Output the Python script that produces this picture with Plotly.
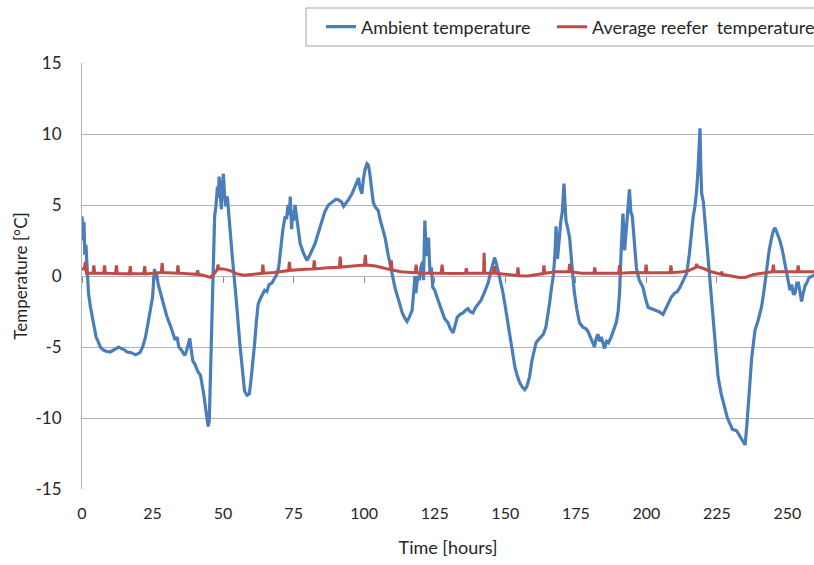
import plotly.graph_objects as go

# Ambient temperature (time in hours, value in °C)
amb_t = [0, 0.4, 0.7, 1.0, 1.4, 1.8, 2.3, 3.0, 3.6, 4.2, 5.0, 5.7, 6.5, 7.5, 8.5, 10, 11.5, 13, 13.8, 15, 16, 17.5, 19, 20.5, 21.5, 22.5, 23.5, 24.5, 25, 25.4, 25.7, 26.0, 26.4, 27, 28, 29, 30, 31.5, 32.5, 33, 33.7, 34.3, 35.2, 36.4, 37, 37.8, 38.2, 38.7, 39.3, 40, 41, 42, 42.6, 43.2, 43.8, 44.3, 44.7, 45.1, 45.5, 45.8, 46.2, 46.6, 47, 47.5, 48, 48.3, 48.6, 49, 49.4, 49.8, 50.1, 50.5, 51, 51.5, 52, 52.5, 53.2, 54, 54.8, 55.9, 56.8, 57.6, 58.5, 59.3, 59.9, 60.6, 61.2, 61.8, 62.4, 63.2, 64, 64.7, 65.5, 66.3, 67.3, 68.2, 69, 69.7, 70.5, 71.2, 72, 72.5, 73, 73.5, 73.8, 74.3, 74.6, 75, 75.5, 76.3, 77.3, 78.5, 79.7, 80.8, 82.6, 84, 85, 86, 87.3, 88.6, 90, 91, 92, 92.7, 93.5, 94.5, 95.7, 96.7, 97.5, 98, 98.5, 99.2, 99.7, 100.3, 101, 101.5, 102, 102.6, 103.2, 103.8, 104.5, 105, 105.6, 106.5, 107.4, 108.5, 110, 111, 112.2, 113.5, 114.5, 115.2, 116, 117, 117.6, 118, 118.3, 119, 119.5, 120, 120.6, 121, 121.5, 122, 122.4, 122.8, 123.3, 123.8, 124.3, 125, 126, 127, 127.6, 128.5, 129.7, 130.5, 131.5, 132.2, 133, 134, 135, 136, 136.8, 137.5, 138.5, 139.5, 140.5, 141.4, 142.5, 143.9, 145, 145.6, 146.2, 146.8, 147.4, 148, 148.9, 149.8, 150.7, 151.6, 152.5, 153.4, 154.2, 155.1, 156, 156.9, 157.6, 158.6, 159.4, 160.2, 160.9, 161.7, 162.6, 163.5, 164.4, 165.1, 165.7, 166.4, 167, 167.6, 168, 168.5, 169, 169.7, 170.2, 170.8, 171.2, 171.5, 172.2, 172.8, 173.6, 174.5, 175.4, 176.3, 177.5, 178.5, 179.3, 180, 180.8, 181.6, 182.2, 182.8, 183.4, 184, 184.6, 185.2, 185.9, 186.6, 187.5, 188.3, 189.3, 190, 190.5, 191, 191.4, 191.7, 192.3, 192.8, 193.4, 194, 194.5, 195, 195.3, 195.9, 196.5, 197.5, 198.8, 199.7, 200.6, 201.8, 203, 204.3, 205.9, 206.8, 207.6, 208.8, 210, 211, 211.9, 213, 214.3, 215.2, 216, 216.6, 217.2, 217.8, 218.3, 218.7, 219, 219.3, 219.6, 220.2, 220.7, 221.2, 221.8, 222.7, 223.6, 224.5, 225.4, 226.5, 227.9, 228.7, 229.6, 230.5, 232, 233, 234, 235, 235.6, 236.2, 236.7, 237.3, 238, 238.5, 239.5, 240.8, 241.7, 242.6, 243.5, 244.4, 245, 245.6, 246.4, 247.3, 248.2, 249.1, 250, 250.9, 251.5, 252.1, 252.7, 253.3, 253.9, 254.5, 255, 255.6, 256.2, 256.8, 257.7, 259, 259.5]
amb_v = [4.2, 2.5, 3.8, 1.5, 2.2, 0.2, -1.2, -2.2, -2.8, -3.5, -4.3, -4.6, -5.0, -5.2, -5.3, -5.35, -5.2, -5.0, -5.1, -5.2, -5.35, -5.4, -5.55, -5.4, -5.0, -4.3, -3.2, -2.2, -1.5, -0.3, 0.5, -0.2, 0.2, -0.6, -1.4, -2.1, -2.8, -3.6, -4.1, -4.5, -4.3, -5.0, -5.2, -5.6, -5.3, -4.8, -4.4, -5.2, -6.0, -6.2, -6.7, -7.0, -7.6, -8.4, -9.3, -10.2, -10.6, -10.2, -7.0, -4.0, -1.0, 2.0, 4.2, 5.0, 6.3, 5.5, 7.0, 5.8, 4.7, 6.5, 7.2, 5.8, 4.9, 5.6, 4.0, 3.2, 1.5, 0, -2.0, -4.7, -6.8, -8.1, -8.4, -8.3, -7.3, -6.0, -4.7, -3.2, -2.0, -1.6, -1.2, -1.0, -1.1, -0.6, -0.5, -0.2, 0.1, 0.6, 2.0, 3.3, 4.2, 4.0, 5.0, 4.3, 5.6, 3.3, 4.6, 3.9, 5.0, 3.8, 2.3, 1.6, 1.1, 1.5, 2.3, 3.2, 3.8, 4.5, 5.0, 5.2, 5.4, 5.35, 5.2, 4.9, 5.1, 5.4, 5.8, 6.3, 6.6, 6.9, 6.2, 5.8, 6.8, 7.5, 7.9, 7.8, 7.2, 6.0, 5.2, 4.9, 4.7, 4.6, 4.0, 3.3, 2.7, 1.5, 0, -0.9, -1.7, -2.6, -3.0, -3.2, -2.9, -2.4, -1.0, 0, -1.2, 0, -0.3, 0.5, 1.0, -0.3, 3.9, 1.4, 2.0, 2.7, 0.2, 0.6, -0.8, -1.0, -1.6, -2.2, -2.4, -3.0, -3.3, -3.7, -4.0, -3.5, -2.9, -2.7, -2.6, -2.4, -2.3, -2.5, -2.6, -2.2, -1.9, -1.7, -1.2, -0.5, 0.4, 0.8, 1.3, 0.9, 0.4, 0, -0.9, -1.9, -3.0, -4.3, -5.4, -6.4, -7.0, -7.5, -7.8, -8.0, -7.8, -7.1, -6.0, -5.2, -4.7, -4.5, -4.3, -4.1, -3.6, -2.8, -1.9, -0.8, 0, 1.5, 3.5, 1.2, 2.5, 3.9, 4.5, 6.5, 5.0, 3.9, 3.3, 2.7, 0.8, -1.2, -2.4, -3.3, -3.6, -3.7, -3.9, -4.3, -4.6, -5.0, -4.4, -4.1, -4.6, -4.3, -4.8, -5.1, -4.6, -4.7, -4.3, -3.9, -3.3, -2.5, -1.2, 1.5, 4.2, 4.4, 1.8, 3.0, 4.5, 6.1, 4.5, 4.2, 3.5, 1.6, 0.5, -0.3, -0.8, -1.6, -2.2, -2.3, -2.4, -2.5, -2.7, -2.3, -1.9, -1.5, -1.2, -1.1, -0.8, -0.3, 0.2, 1.5, 3.2, 4.2, 4.9, 6.0, 7.5, 9.0, 10.4, 7.5, 5.8, 5.2, 4.0, 2.8, 1.8, -0.3, -2.4, -4.8, -7.1, -8.3, -9.4, -10.0, -10.4, -10.8, -10.9, -11.2, -11.6, -11.9, -10.5, -8.5, -7.5, -5.8, -4.6, -3.8, -3.2, -2.2, -1.0, 0.4, 1.8, 2.7, 3.2, 3.4, 3.0, 2.5, 1.8, 0.9, -0.2, -1.0, -0.6, -1.3, -1.2, -0.5, -0.5, -1.2, -1.8, -1.2, -0.7, -0.5, -0.1, 0.0, 0.1]

# Average reefer temperature
reef_t = [0, 0.8, 1.2, 1.6, 3.9, 4.2, 4.5, 7.7, 8.0, 8.3, 11.9, 12.2, 12.5, 16.8, 17.1, 17.4, 21.9, 22.2, 22.5, 25, 28.1, 28.4, 28.7, 33.7, 34, 34.3, 40.7, 41, 41.3, 43, 45.5, 47, 47.9, 48.2, 48.5, 50, 52.5, 55, 57.6, 60, 63.8, 64.1, 64.4, 68, 73.2, 73.5, 73.8, 78, 82, 82.3, 82.6, 87, 91.2, 91.5, 91.8, 96, 100.1, 100.4, 100.7, 104, 109.3, 109.6, 109.9, 113, 118.1, 118.4, 118.7, 122, 127.3, 127.6, 127.9, 132, 135.9, 136.2, 136.5, 140, 142.3, 142.5, 142.7, 145.9, 146.2, 146.5, 150, 154.2, 154.5, 154.8, 158, 161, 163.4, 163.7, 164, 168, 172.5, 172.8, 173.1, 177, 181.4, 181.7, 182, 186, 190.2, 190.5, 190.8, 195, 199.6, 199.9, 200.2, 204, 208.4, 208.7, 209, 213, 215, 217.5, 217.8, 218.1, 220, 223, 226.4, 226.7, 227, 230, 233, 235, 238, 241, 244.7, 245, 245.3, 250, 253.5, 253.8, 254.1, 259.5]
reef_v = [0.5, 0.5, 1.0, 0.2, 0.19, 0.75, 0.19, 0.19, 0.75, 0.19, 0.18, 0.75, 0.18, 0.15, 0.7, 0.15, 0.15, 0.7, 0.15, 0.2, 0.25, 0.9, 0.25, 0.2, 0.75, 0.2, 0.12, 0.4, 0.1, 0.05, -0.1, 0.2, 0.45, 0.8, 0.5, 0.5, 0.38, 0.15, 0.05, 0.1, 0.19, 0.8, 0.2, 0.25, 0.38, 1.0, 0.4, 0.45, 0.5, 1.1, 0.5, 0.58, 0.62, 1.36, 0.63, 0.7, 0.77, 1.48, 0.77, 0.7, 0.45, 1.1, 0.42, 0.3, 0.23, 0.8, 0.23, 0.2, 0.19, 0.8, 0.19, 0.18, 0.19, 0.55, 0.19, 0.2, 0.2, 1.64, 0.2, 0.2, 0.7, 0.2, 0.1, 0.03, 0.6, 0.02, 0.0, 0.1, 0.17, 0.75, 0.19, 0.3, 0.3, 0.85, 0.3, 0.2, 0.19, 0.6, 0.19, 0.2, 0.2, 0.75, 0.2, 0.25, 0.23, 0.8, 0.23, 0.23, 0.23, 0.75, 0.23, 0.3, 0.38, 0.6, 0.85, 0.66, 0.55, 0.3, 0.12, 0.3, 0.1, 0.0, -0.1, -0.1, 0.1, 0.2, 0.3, 0.8, 0.3, 0.3, 0.3, 0.75, 0.3, 0.3]

x_ticks = [0, 25, 50, 75, 100, 125, 150, 175, 200, 225, 250]
y_ticks = [-15, -10, -5, 0, 5, 10, 15]
y_ticklabels = ["-15", "-10", "-5", "0", "5", "10", "15"]

BLUE = "#4a7ebb"
RED = "#be4b48"
GRID = "#b4b4b4"
FONT = "Lato"
TXT = "#262626"
W, H = 814, 565
ML, MT, MB = 82, 63, 76
PH = H - MT - MB  # plot height in px
PW = W - ML       # plot width in px

fig = go.Figure()
fig.add_trace(go.Scatter(x=amb_t, y=amb_v, mode="lines", name="Ambient temperature",
                         line=dict(color=BLUE, width=3.2), legend="legend"))
fig.add_trace(go.Scatter(x=reef_t, y=reef_v, mode="lines", name="Average reefer  temperature",
                         line=dict(color=RED, width=3), legend="legend2"))
# helper trace for the zero-crossing axis tick marks
fig.add_trace(go.Scatter(x=[None], y=[None], xaxis="x2", showlegend=False, hoverinfo="skip"))

legend_common = dict(orientation="h", xref="container", yref="container",
                     xanchor="left", y=0.985, yanchor="top",
                     borderwidth=0, bgcolor="rgba(0,0,0,0)",
                     font=dict(family=FONT, size=18, color=TXT), itemwidth=30)

fig.update_layout(
    width=W, height=H,
    margin=dict(l=ML, r=0, t=MT, b=MB),
    paper_bgcolor="white", plot_bgcolor="white",
    font=dict(family=FONT, size=15, color=TXT),
    showlegend=True,
    legend=dict(x=321 / W, **legend_common),
    legend2=dict(x=552 / W, **legend_common),
    shapes=[dict(type="rect", xref="paper", yref="paper", layer="below",
                 x0=(306 - ML) / PW, x1=(822 - ML) / PW,
                 y0=1 + (MT - 46) / PH, y1=1 + (MT - 8) / PH,
                 line=dict(color="#a6a6a6", width=1), fillcolor="white")],
    xaxis=dict(range=[0, 259.4], tickvals=x_ticks, ticktext=[str(v) for v in x_ticks],
               showgrid=False, zeroline=False, showline=False,
               ticks="outside", ticklen=10, tickcolor="rgba(0,0,0,0)",
               title=dict(text="Time [hours]", standoff=20, font=dict(size=18)),
               tickfont=dict(size=16)),
    xaxis2=dict(overlaying="x", matches="x", anchor="free", position=0.5,
                range=[0, 259.4], tickvals=x_ticks, showticklabels=False,
                ticks="outside", ticklen=6, tickcolor="#8c8c8c", tickwidth=1,
                showgrid=False, zeroline=False, showline=False, layer="below traces"),
    yaxis=dict(range=[-15, 15], tickvals=y_ticks, ticktext=y_ticklabels,
               showgrid=True, gridcolor=GRID, gridwidth=1,
               zeroline=False, showline=True, linecolor=GRID, linewidth=1,
               ticks="outside", ticklen=16, tickcolor="rgba(0,0,0,0)",
               title=dict(text="Temperature [°C]", standoff=3, font=dict(size=17, color=TXT)),
               tickfont=dict(size=17)),
)

fig.write_html("out.html")
